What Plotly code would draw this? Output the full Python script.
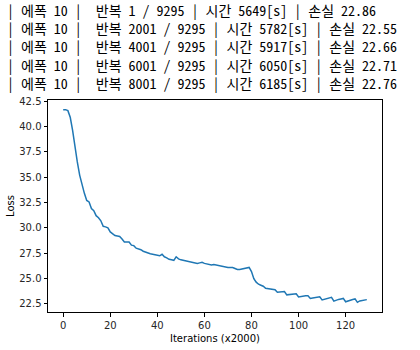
import plotly.graph_objects as go

log_lines = [
    "| 에폭 10 |  반복 1 / 9295 | 시간 5649[s] | 손실 22.86",
    "| 에폭 10 |  반복 2001 / 9295 | 시간 5782[s] | 손실 22.55",
    "| 에폭 10 |  반복 4001 / 9295 | 시간 5917[s] | 손실 22.66",
    "| 에폭 10 |  반복 6001 / 9295 | 시간 6050[s] | 손실 22.71",
    "| 에폭 10 |  반복 8001 / 9295 | 시간 6185[s] | 손실 22.76",
]

loss = [
    41.65, 41.65, 41.55, 40.9, 39.6, 37.9, 36.5, 35.2, 34.2, 33.4,
    32.7, 32.55, 31.9, 31.7, 31.2, 31.0, 30.7, 30.15, 30.1, 30.0,
    29.6, 29.4, 29.25, 29.2, 29.15, 28.9, 28.6, 28.6, 28.6, 28.3,
    28.25, 28.0, 27.95, 27.85, 27.7, 27.6, 27.5, 27.45, 27.4, 27.35,
    27.3, 27.25, 27.4, 27.15, 27.05, 26.9, 26.85, 26.8, 27.15, 26.95,
    26.85, 26.8, 26.75, 26.7, 26.6, 26.55, 26.5, 26.5, 26.55, 26.6,
    26.5, 26.45, 26.35, 26.35, 26.4, 26.35, 26.3, 26.25, 26.15, 26.1,
    26.1, 26.1, 26.1, 26.0, 25.9, 25.9, 25.95, 26.0, 26.05, 26.1,
    25.7, 25.0, 24.65, 24.45, 24.35, 24.25, 24.05, 24.0, 23.95, 23.9,
    23.9, 23.65, 23.65, 23.7, 23.72, 23.4, 23.42, 23.45, 23.45, 23.5,
    23.2, 23.25, 23.28, 23.3, 23.32, 23.05, 23.1, 23.15, 23.18, 23.2,
    22.9, 22.98, 23.05, 23.1, 23.15, 22.78, 22.88, 22.95, 23.0, 23.05,
    22.72, 22.82, 22.88, 22.95, 23.0, 22.66, 22.8, 22.85, 22.9, 22.93,
]
iterations = list(range(len(loss)))

x_ticks = [0, 20, 40, 60, 80, 100, 120]
y_ticks = [22.5, 25.0, 27.5, 30.0, 32.5, 35.0, 37.5, 40.0, 42.5]
x_label = "Iterations (x2000)"
y_label = "Loss"

W, H = 420, 350
L, R, T, B = 48, 38, 100, 38
plot_h = H - T - B

fig = go.Figure()
fig.add_trace(go.Scatter(
    x=iterations, y=loss, mode="lines",
    line=dict(color="#1f77b4", width=1.5), hoverinfo="skip",
))

xmin, xmax = min(iterations), max(iterations)
ymin, ymax = min(loss), max(loss)
xm = (xmax - xmin) * 0.05
ym = (ymax - ymin) * 0.05

axis_common = dict(
    showgrid=False, zeroline=False, showline=True, linecolor="black",
    linewidth=1, mirror=True, ticks="outside", ticklen=3.5, tickwidth=0.8,
    tickcolor="black", tickfont=dict(family="DejaVu Sans", size=10, color="#262626"),
)
fig.update_xaxes(range=[xmin - xm, xmax + xm], tickvals=x_ticks,
                 ticktext=[str(v) for v in x_ticks], **axis_common)
fig.update_yaxes(range=[ymin - ym, ymax + ym], tickvals=y_ticks,
                 ticktext=[f"{v:.1f}" for v in y_ticks], **axis_common)

log_font_size = 14
first_center = 10.5
last_center = first_center + 1.3 * log_font_size * (len(log_lines) - 1)
block_mid = (first_center + last_center) / 2
log_text = "<br>".join(t.replace(" ", "\u00a0") for t in log_lines)

annotations = [dict(
    text=log_text, xref="paper", yref="paper", align="left",
    x=(5 - L) / (W - L - R), y=(H - B - block_mid) / plot_h,
    xanchor="left", yanchor="middle", showarrow=False,
    font=dict(family="Noto Sans Mono CJK KR, DejaVu Sans Mono, Noto Sans CJK KR",
              size=log_font_size, color="black"),
)]
annotations.append(dict(
    text=x_label, xref="paper", yref="paper", x=0.5, y=(H - B - 338) / plot_h,
    xanchor="center", yanchor="middle", showarrow=False,
    font=dict(family="DejaVu Sans", size=10, color="black"),
))
annotations.append(dict(
    text=y_label, xref="paper", yref="paper", x=(10 - L) / (W - L - R), y=0.5,
    xanchor="center", yanchor="middle", showarrow=False, textangle=-90,
    font=dict(family="DejaVu Sans", size=10, color="black"),
))

fig.update_layout(
    width=W, height=H, margin=dict(l=L, r=R, t=T, b=B),
    paper_bgcolor="white", plot_bgcolor="white", showlegend=False,
    annotations=annotations,
)

fig.write_html("out.html")
